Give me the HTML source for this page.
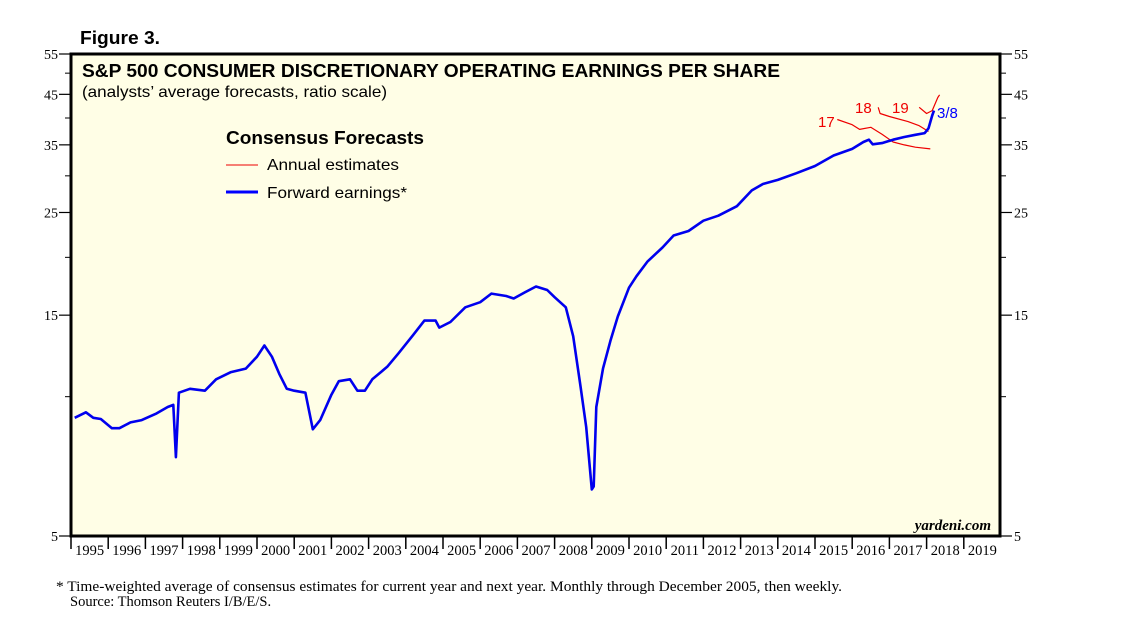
<!DOCTYPE html>
<html><head><meta charset="utf-8">
<style>
body{margin:0;background:#fff;width:1138px;height:631px;overflow:hidden}
svg text{font-family:"Liberation Sans",sans-serif}
.serif{font-family:"Liberation Serif",serif}
</style></head>
<body>
<svg id="chart" width="1138" height="631" viewBox="0 0 1138 631">
<text x="80" y="44" font-size="18" font-weight="bold" textLength="80" lengthAdjust="spacingAndGlyphs">Figure 3.</text>
<rect x="71" y="54" width="929" height="482" fill="#fffee6" stroke="#000" stroke-width="3"/>
<g id="axes"></g>
<g id="series"></g>
<text x="82" y="77" font-size="18.5" font-weight="bold" textLength="698" lengthAdjust="spacingAndGlyphs">S&amp;P 500 CONSUMER DISCRETIONARY OPERATING EARNINGS PER SHARE</text>
<text x="82" y="97" font-size="16" textLength="305" lengthAdjust="spacingAndGlyphs">(analysts’ average forecasts, ratio scale)</text>
<g>
<text x="226" y="144" font-size="18" font-weight="bold" textLength="198" lengthAdjust="spacingAndGlyphs">Consensus Forecasts</text>
<line x1="226" y1="165" x2="258" y2="165" stroke="#e00" stroke-width="1"/>
<text x="267" y="170" font-size="16" textLength="132" lengthAdjust="spacingAndGlyphs">Annual estimates</text>
<line x1="226" y1="192" x2="258" y2="192" stroke="#00f" stroke-width="3"/>
<text x="267" y="198" font-size="16" textLength="140" lengthAdjust="spacingAndGlyphs">Forward earnings*</text>
</g>
<text x="818" y="127" font-size="15" fill="#e00">17</text>
<text x="855" y="113" font-size="15" fill="#e00">18</text>
<text x="892" y="113" font-size="15" fill="#e00">19</text>
<text x="937" y="118" font-size="15" fill="#00f">3/8</text>
<text x="991" y="530" font-size="15" font-style="italic" font-weight="bold" text-anchor="end" class="serif">yardeni.com</text>
<text x="56" y="591" font-size="14.5" class="serif" textLength="786" lengthAdjust="spacingAndGlyphs">*  Time-weighted average of consensus estimates for current year and next year. Monthly through December 2005, then weekly.</text>
<text x="70" y="606" font-size="14.5" class="serif">Source: Thomson Reuters I/B/E/S.</text>
</svg>
<script>
const years=[1995,1996,1997,1998,1999,2000,2001,2002,2003,2004,2005,2006,2007,2008,2009,2010,2011,2012,2013,2014,2015,2016,2017,2018,2019];
const yTicksLabeled=[55,45,35,25,15,5];
const yTicksMinor=[50,40,30,20,10];
const fwdT=[1995.1,1995.4,1995.6,1995.8,1996.1,1996.3,1996.6,1996.9,1997.3,1997.6,1997.75,1997.82,1997.9,1998.2,1998.6,1998.9,1999.3,1999.7,2000.0,2000.2,2000.4,2000.6,2000.8,2001.0,2001.3,2001.5,2001.7,2002.0,2002.2,2002.5,2002.7,2002.9,2003.1,2003.5,2003.8,2004.2,2004.5,2004.8,2004.9,2005.2,2005.6,2006.0,2006.3,2006.7,2006.9,2007.2,2007.5,2007.8,2008.0,2008.3,2008.5,2008.7,2008.85,2009.0,2009.05,2009.12,2009.3,2009.5,2009.7,2010.0,2010.2,2010.5,2010.9,2011.2,2011.6,2012.0,2012.4,2012.9,2013.3,2013.6,2014.0,2014.5,2015.0,2015.5,2016.0,2016.3,2016.45,2016.55,2016.8,2017.1,2017.4,2017.7,2017.95,2018.05,2018.15,2018.2];
const fwdV=[9.0,9.25,9.0,8.95,8.55,8.55,8.8,8.9,9.2,9.5,9.6,7.4,10.2,10.4,10.3,10.9,11.3,11.5,12.2,12.9,12.2,11.2,10.4,10.3,10.2,8.5,8.9,10.1,10.8,10.9,10.3,10.3,10.9,11.6,12.4,13.6,14.6,14.6,14.1,14.5,15.6,16.0,16.7,16.5,16.3,16.8,17.3,17.0,16.4,15.6,13.5,10.5,8.6,6.3,6.4,9.5,11.5,13.2,14.9,17.2,18.2,19.6,21.0,22.3,22.8,24.0,24.6,25.8,27.9,28.8,29.4,30.4,31.5,33.2,34.3,35.5,35.9,35.1,35.3,35.9,36.4,36.8,37.1,38.0,40.5,41.5];
const est17T=[2015.6,2016.0,2016.2,2016.5,2016.8,2017.1,2017.4,2017.7,2018.1];
const est17V=[39.7,38.7,37.8,38.2,36.9,35.5,35.0,34.6,34.3];
const est18T=[2016.7,2016.75,2017.0,2017.5,2017.8,2018.05];
const est18V=[42.2,40.9,40.3,39.3,38.5,37.4];
const est19T=[2017.8,2018.0,2018.15,2018.3,2018.35];
const est19V=[42.2,40.9,41.5,44.3,44.9];

const NS='http://www.w3.org/2000/svg';
const X0=71,X1=1001,Y0=54,Y1=536;
const xs=t=>X0+(t-1995)*(X1-X0)/25;
const ys=v=>Y0+(Math.log(55)-Math.log(v))/(Math.log(55)-Math.log(5))*(Y1-Y0);
function mk(tag,attrs,parent){const e=document.createElementNS(NS,tag);for(const k in attrs)e.setAttribute(k,attrs[k]);parent.appendChild(e);return e;}
const axes=document.getElementById('axes');
yTicksLabeled.forEach(v=>{
  const y=ys(v);
  let l=mk('line',{x1:X0-12,y1:y,x2:X0,y2:y,stroke:'#000','stroke-width':1.2},axes);
  
  
  let r=mk('line',{x1:X1-1,y1:y,x2:X1+11,y2:y,stroke:'#000','stroke-width':1.2},axes);
  
  
  let t=mk('text',{x:X0-13,y:y+5,'font-size':14,'text-anchor':'end','class':'serif'},axes);t.textContent=v;
  
  
  let t2=mk('text',{x:X1+13,y:y+5,'font-size':14,'class':'serif'},axes);t2.textContent=v;
  
  
});
yTicksMinor.forEach(v=>{
  const y=ys(v);
  let l=mk('line',{x1:X0-6,y1:y,x2:X0,y2:y,stroke:'#000','stroke-width':1},axes);
  
  
  let r=mk('line',{x1:X1-1,y1:y,x2:X1+5,y2:y,stroke:'#000','stroke-width':1},axes);
  
  
});
years.forEach(yr=>{
  const x=xs(yr);
  let l=mk('line',{x1:x,y1:Y1,x2:x,y2:Y1+13,stroke:'#000','stroke-width':1.5},axes);
  
  
  let t=mk('text',{x:x+18.6,y:Y1+19,'font-size':14.5,'text-anchor':'middle','class':'serif'},axes);t.textContent=yr;
  
  
});
const ser=document.getElementById('series');
function line(T,V,color,w,name){
  const d=T.map((t,i)=>(i?'L':'M')+xs(t).toFixed(1)+','+ys(V[i]).toFixed(1)).join('');
  const p=mk('path',{d:d,fill:'none',stroke:color,'stroke-width':w,'stroke-linejoin':'round'},ser);
  
  
}
line(est17T,est17V,'#e00',1.2,'annual-estimate-2017');
line(est18T,est18V,'#e00',1.2,'annual-estimate-2018');
line(est19T,est19V,'#e00',1.2,'annual-estimate-2019');
line(fwdT,fwdV,'#0000ee',2.6,'forward-earnings-line');
</script>
</body></html>
